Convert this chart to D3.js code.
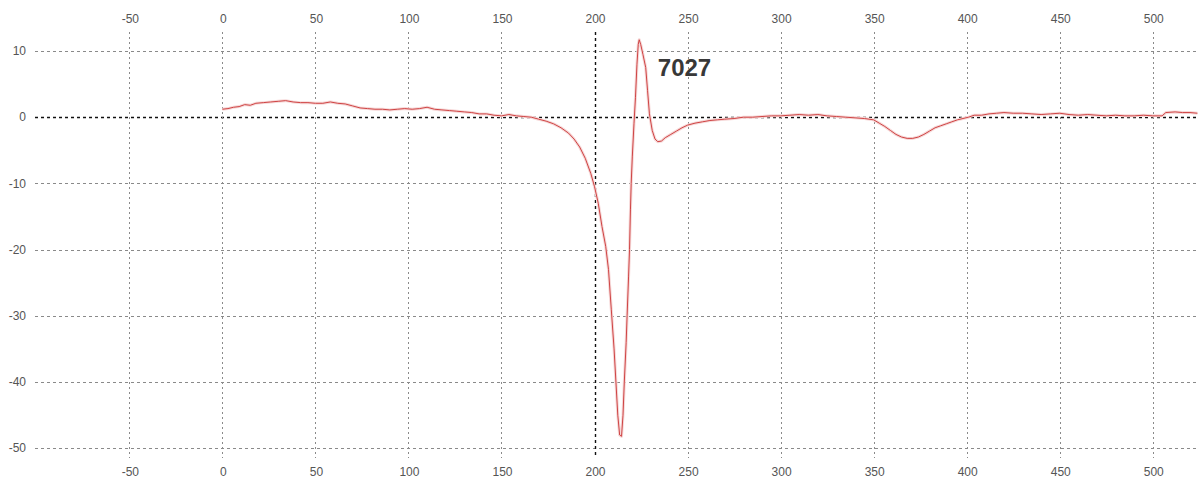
<!DOCTYPE html>
<html>
<head>
<meta charset="utf-8">
<script src="https://cdn.jsdelivr.net/npm/d3@7.9.0/dist/d3.min.js"></script>
<style>
  html, body { margin: 0; padding: 0; background: #fff; }
  svg { display: block; font-family: "Liberation Sans", Arial, sans-serif; }
</style>
</head>
<body>
<svg id="chart" width="1198" height="484"></svg>
<script>
// signal trace
const xs = [0, 3, 6, 9, 12, 15, 18, 22, 26, 30, 34, 38, 42, 46, 50, 54, 58, 62, 66, 70,
  74, 78, 82, 86, 90, 94, 98, 102, 106, 110, 114, 118, 122, 126, 130, 134, 138, 142, 146, 150,
  154, 158, 162, 166, 170, 174, 178, 182, 186, 189, 192, 195, 198, 200, 202, 204, 206, 207.5, 209, 210.5,
  211.5, 212.5, 213.5, 214.5, 215.3, 216, 217, 217.5, 218.3, 218.8, 219.3, 219.7, 220.3, 221.2, 222, 222.8, 223.5, 224, 224.8, 226,
  227.5, 228.5, 229.5, 231, 232.5, 234, 236, 238, 241, 244, 247, 250, 254, 258, 262, 266, 270, 275, 280, 285,
  290, 295, 300, 305, 310, 315, 320, 325, 330, 335, 340, 345, 350, 353, 356, 359, 362, 365, 368, 371,
  374, 377, 380, 383, 386, 389, 392, 395, 398, 401, 404, 408, 412, 416, 420, 425, 430, 435, 440, 445,
  450, 455, 460, 465, 470, 475, 480, 485, 490, 495, 500, 505, 507, 512, 516, 520, 524];
const ys = [1.2, 1.3, 1.5, 1.6, 1.9, 1.8, 2.1, 2.2, 2.3, 2.4, 2.5, 2.3, 2.2, 2.2, 2.1, 2.1, 2.3, 2.1, 2.0, 1.7,
  1.4, 1.3, 1.2, 1.2, 1.1, 1.2, 1.3, 1.2, 1.3, 1.5, 1.2, 1.1, 1.0, 0.9, 0.8, 0.7, 0.5, 0.5, 0.3, 0.2,
  0.4, 0.2, 0.1, 0.0, -0.3, -0.6, -1.0, -1.6, -2.4, -3.3, -4.5, -6.2, -8.5, -10.5, -13, -16.5, -19.5, -23, -29, -35,
  -40, -45, -48, -48.2, -45, -40, -34, -30, -24, -20, -14, -10, -6, -1, 3, 8, 11, 11.7, 11, 9.5,
  7.5, 4, 0.5, -2, -3.3, -3.7, -3.6, -3.1, -2.6, -2.1, -1.6, -1.2, -0.9, -0.7, -0.5, -0.4, -0.3, -0.2, 0.0, 0.0,
  0.1, 0.2, 0.2, 0.3, 0.4, 0.3, 0.4, 0.2, 0.1, 0.0, -0.1, -0.2, -0.4, -0.9, -1.4, -2.0, -2.6, -3.0, -3.2, -3.2,
  -3.0, -2.6, -2.1, -1.6, -1.3, -1.0, -0.7, -0.4, -0.2, 0.0, 0.3, 0.3, 0.5, 0.6, 0.7, 0.6, 0.6, 0.5, 0.4, 0.5,
  0.6, 0.4, 0.3, 0.4, 0.3, 0.2, 0.3, 0.2, 0.2, 0.3, 0.2, 0.2, 0.7, 0.8, 0.7, 0.7, 0.6];

const xTicks = [-50, 0, 50, 100, 150, 200, 250, 300, 350, 400, 450, 500];
const yTicks = [10, 0, -10, -20, -30, -40, -50];
const label = '7027';

const width = 1198, height = 484;
const svg = d3.select('#chart');

const x = d3.scaleLinear().domain([-119.5, 524.3]).range([0, width]);
const y = d3.scaleLinear().domain([17.7, -55.4]).range([0, height]);

const gridLeft = 35, gridTop = 32, gridBottom = 458;

// horizontal grid
svg.append('g')
  .selectAll('line')
  .data(yTicks)
  .join('line')
  .attr('x1', gridLeft).attr('x2', width)
  .attr('y1', d => Math.round(y(d)) + 0.5).attr('y2', d => Math.round(y(d)) + 0.5)
  .attr('stroke', d => d === 0 ? '#111' : '#8a8a8a')
  .attr('stroke-width', d => d === 0 ? 1.4 : 1)
  .attr('stroke-dasharray', '3,3');

// vertical grid
svg.append('g')
  .selectAll('line')
  .data(xTicks)
  .join('line')
  .attr('x1', d => Math.round(x(d)) + 0.5).attr('x2', d => Math.round(x(d)) + 0.5)
  .attr('y1', gridTop).attr('y2', gridBottom)
  .attr('stroke', d => d === 200 ? '#111' : '#8a8a8a')
  .attr('stroke-width', d => d === 200 ? 1.4 : 1)
  .attr('stroke-dasharray', d => d === 200 ? '3,3' : '2,3');

// tick labels
const tickStyle = sel => sel
  .attr('font-size', 12)
  .attr('fill', '#555');

svg.append('g').selectAll('text')
  .data(yTicks)
  .join('text')
  .attr('x', 26)
  .attr('y', d => y(d))
  .attr('dy', '0.35em')
  .attr('text-anchor', 'end')
  .text(d => d)
  .call(tickStyle);

[19, 472].forEach(ty => {
  svg.append('g').selectAll('text')
    .data(xTicks)
    .join('text')
    .attr('x', d => x(d) + 1)
    .attr('y', ty)
    .attr('dy', '0.35em')
    .attr('text-anchor', 'middle')
    .text(d => d)
    .call(tickStyle);
});

// trace
const pts = xs.map((d, i) => [d, ys[i]]);
const line = d3.line().x(d => x(d[0])).y(d => y(d[1]));

svg.append('path')
  .datum(pts)
  .attr('d', line)
  .attr('fill', 'none')
  .attr('stroke', '#f6d8d8')
  .attr('stroke-width', 3)
  .attr('stroke-linejoin', 'round');

svg.append('path')
  .datum(pts)
  .attr('d', line)
  .attr('fill', 'none')
  .attr('stroke', '#cf4444')
  .attr('stroke-width', 1)
  .attr('stroke-linejoin', 'round');

svg.append('text')
  .attr('x', x(234))
  .attr('y', y(6.2))
  .attr('font-size', 24)
  .attr('font-weight', 'bold')
  .attr('fill', '#383838')
  .text(label);
</script>
</body>
</html>
